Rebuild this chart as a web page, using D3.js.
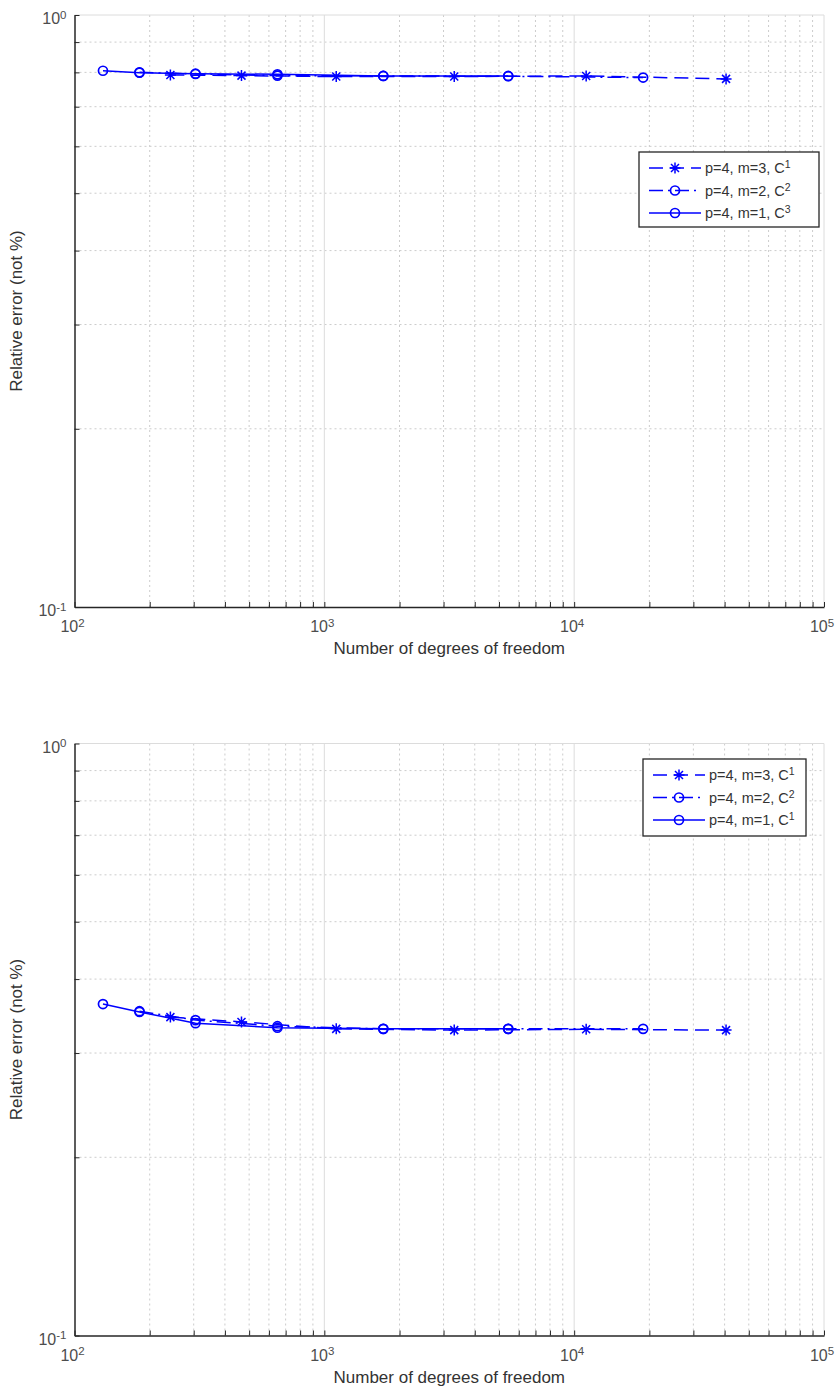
<!DOCTYPE html>
<html>
<head>
<meta charset="utf-8">
<script src="https://cdn.jsdelivr.net/npm/d3@7"></script>
<style>
  body { margin: 0; background: #fff; }
  text { font-family: "Liberation Sans", Arial, Helvetica, sans-serif; }
</style>
</head>
<body>
<script>
// degrees of freedom per series
const dofM3 = [242, 466, 1116, 3311, 11170, 40550];
const dofM2 = [182, 305, 649, 1722, 5445, 18880];
const dofM1 = [130, 182, 305, 649, 1722, 5445];

// relative errors, upper panel
const errTopM3 = [0.792, 0.790, 0.787, 0.787, 0.789, 0.780];
const errTopM2 = [0.800, 0.795, 0.790, 0.789, 0.788, 0.784];
const errTopM1 = [0.805, 0.799, 0.796, 0.794, 0.789, 0.789];

// relative errors, lower panel
const errBotM3 = [0.345, 0.3386, 0.3296, 0.328, 0.329, 0.328];
const errBotM2 = [0.353, 0.341, 0.333, 0.3296, 0.3296, 0.3296];
const errBotM1 = [0.363, 0.352, 0.337, 0.331, 0.3296, 0.3296];

const legendTop = ['p=4, m=3, C|1', 'p=4, m=2, C|2', 'p=4, m=1, C|3'];
const legendBot = ['p=4, m=3, C|1', 'p=4, m=2, C|2', 'p=4, m=1, C|1'];

const xMajor = [1e2, 1e3, 1e4, 1e5];
const yMajor = [0.1, 1];

const W = 840, H = 1392;
const blue = '#0000ff';
const axisColor = '#262626';

const svg = d3.select('body').append('svg').attr('width', W).attr('height', H);

const xMinor = [];
[1e2, 1e3, 1e4].forEach(d => { for (let k = 2; k <= 9; k++) xMinor.push(d * k); });
const yMinor = d3.range(2, 10).map(k => k / 10);

function powLabel(sel, exp) {
  sel.append('tspan').text('10');
  sel.append('tspan').attr('dy', '-0.45em').attr('font-size', '11.5px').text(exp);
}

function drawMarker(g, kind, cx, cy) {
  if (kind === 'star') {
    const s = 5.5, d = 4;
    g.append('path')
      .attr('d', `M${cx},${cy - s}V${cy + s}M${cx - s},${cy}H${cx + s}` +
                 `M${cx - d},${cy - d}L${cx + d},${cy + d}M${cx - d},${cy + d}L${cx + d},${cy - d}`)
      .attr('stroke', blue).attr('stroke-width', 1.5).attr('fill', 'none');
  } else {
    g.append('circle').attr('cx', cx).attr('cy', cy).attr('r', 4.5)
      .attr('stroke', blue).attr('stroke-width', 1.7).attr('fill', 'none');
  }
}

function panel(top, series, legendBox, labels) {
  const bottom = top + 592;
  const x = d3.scaleLog().domain([1e2, 1e5]).range([74.5, 824]);
  const y = d3.scaleLog().domain([0.1, 1]).range([bottom, top]);
  const g = svg.append('g');

  // minor grid
  g.append('g').selectAll('line').data(xMinor).join('line')
    .attr('x1', d => x(d)).attr('x2', d => x(d)).attr('y1', top).attr('y2', bottom)
    .attr('stroke', '#cccccc').attr('stroke-dasharray', '2,3');
  g.append('g').selectAll('line').data(yMinor).join('line')
    .attr('y1', d => y(d)).attr('y2', d => y(d)).attr('x1', x(1e2)).attr('x2', x(1e5))
    .attr('stroke', '#cccccc').attr('stroke-dasharray', '2,3');
  // major grid
  g.append('g').selectAll('line').data(xMajor.slice(1)).join('line')
    .attr('x1', d => x(d)).attr('x2', d => x(d)).attr('y1', top).attr('y2', bottom)
    .attr('stroke', '#dcdcdc');
  g.append('line').attr('x1', x(1e2)).attr('x2', x(1e5)).attr('y1', y(1)).attr('y2', y(1))
    .attr('stroke', '#dcdcdc');

  // data
  series.forEach(s => {
    const pts = s.x.map((v, i) => [x(v), y(s.y[i])]);
    g.append('path').attr('d', d3.line()(pts))
      .attr('fill', 'none').attr('stroke', blue).attr('stroke-width', 1.5)
      .attr('stroke-dasharray', s.dash);
    pts.forEach(p => drawMarker(g, s.marker, p[0], p[1]));
  });

  // axes
  const xAxis = g.append('g').attr('transform', `translate(0,${bottom})`)
    .call(d3.axisBottom(x).tickValues(xMajor.concat(xMinor)).tickSize(-5).tickSizeOuter(0).tickFormat(''));
  const yAxis = g.append('g').attr('transform', `translate(${x(1e2)},0)`)
    .call(d3.axisLeft(y).tickValues(yMajor.concat(yMinor)).tickSize(-5).tickSizeOuter(0).tickFormat(''));
  [xAxis, yAxis].forEach(a => {
    a.select('.domain').attr('stroke', axisColor).attr('stroke-width', 1.5);
    a.selectAll('.tick line').attr('stroke', axisColor).attr('stroke-width', 1);
  });

  // tick labels
  xMajor.forEach(v => {
    const t = g.append('text').attr('x', x(v) - 2).attr('y', bottom + 25)
      .attr('text-anchor', 'middle').attr('font-size', '16px').attr('fill', '#4d4d4d');
    powLabel(t, String(Math.round(Math.log10(v))));
  });
  yMajor.forEach(v => {
    const t = g.append('text').attr('x', x(1e2) - 8).attr('y', y(v) + 9)
      .attr('text-anchor', 'end').attr('font-size', '16px').attr('fill', '#4d4d4d');
    powLabel(t, String(Math.round(Math.log10(v))));
  });

  g.append('text').attr('x', (x(1e2) + x(1e5)) / 2).attr('y', bottom + 47)
    .attr('text-anchor', 'middle').attr('font-size', '17px').attr('fill', '#333')
    .text('Number of degrees of freedom');
  g.append('text').attr('transform', `translate(22,${(top + bottom) / 2}) rotate(-90)`)
    .attr('text-anchor', 'middle').attr('font-size', '17px').attr('fill', '#333')
    .text('Relative error (not %)');

  // legend
  const lg = g.append('g');
  lg.append('rect').attr('x', legendBox.x).attr('y', legendBox.y)
    .attr('width', legendBox.w).attr('height', legendBox.h)
    .attr('fill', '#fff').attr('stroke', axisColor).attr('stroke-width', 1.3);
  series.forEach((s, i) => {
    const ly = legendBox.y + 16 + i * 22.5;
    const lx = legendBox.x + 10;
    lg.append('line').attr('x1', lx).attr('x2', lx + 52).attr('y1', ly).attr('y2', ly)
      .attr('stroke', blue).attr('stroke-width', 1.5).attr('stroke-dasharray', s.dash);
    drawMarker(lg, s.marker, lx + 26, ly);
    const [main, sup] = labels[i].split('|');
    const t = lg.append('text').attr('x', lx + 56).attr('y', ly + 5)
      .attr('font-size', '14.5px').attr('fill', '#333');
    t.append('tspan').text(main);
    t.append('tspan').attr('dy', '-0.45em').attr('font-size', '10.5px').text(sup);
  });
}

panel(15, [
  { x: dofM3, y: errTopM3, marker: 'star', dash: '14,7' },
  { x: dofM2, y: errTopM2, marker: 'circle', dash: '14,5,2,5' },
  { x: dofM1, y: errTopM1, marker: 'circle', dash: null }
], { x: 639, y: 152, w: 180, h: 75 }, legendTop);

panel(743.5, [
  { x: dofM3, y: errBotM3, marker: 'star', dash: '14,7' },
  { x: dofM2, y: errBotM2, marker: 'circle', dash: '14,5,2,5' },
  { x: dofM1, y: errBotM1, marker: 'circle', dash: null }
], { x: 643, y: 759, w: 163, h: 77 }, legendBot);
</script>
</body>
</html>
